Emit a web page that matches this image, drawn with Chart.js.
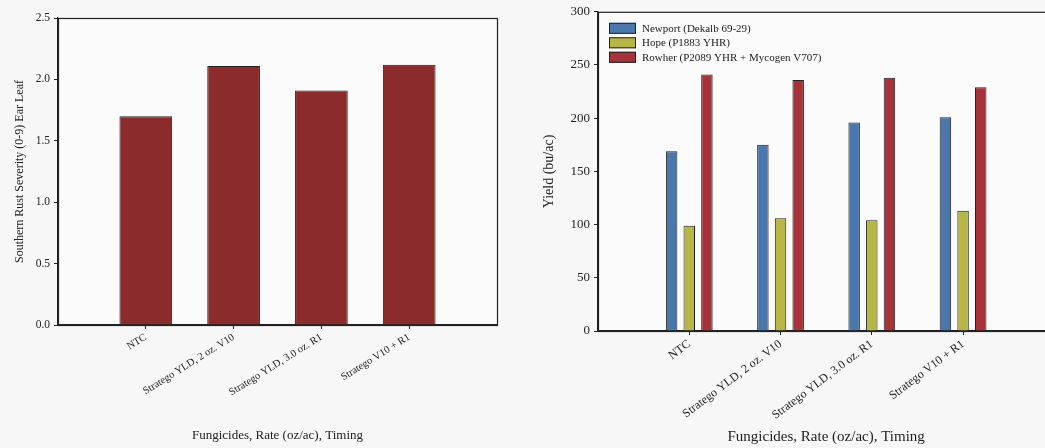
<!DOCTYPE html>
<html>
<head>
<meta charset="utf-8">
<script src="https://cdn.jsdelivr.net/npm/chart.js@4/dist/chart.umd.min.js"></script>
<style>
  html,body{margin:0;padding:0;width:1045px;height:448px;overflow:hidden;background:#f7f7f7;}
  canvas{position:absolute;top:0;}
  #sev{left:0;}
  #yld{left:520px;}
</style>
</head>
<body>
<canvas id="sev" width="520" height="448"></canvas>
<canvas id="yld" width="545" height="448"></canvas>
<script>
// data
const categories = ['NTC', 'Stratego YLD, 2 oz. V10', 'Stratego YLD, 3.0 oz. R1', 'Stratego V10 + R1'];
const rustSeverity = [1.70, 2.11, 1.91, 2.12];
const seriesNames = ['Newport (Dekalb 69-29)', 'Hope (P1883 YHR)', 'Rowher (P2089 YHR + Mycogen V707)'];
const yieldNewport = [169, 175, 196, 201];
const yieldHope = [99, 106, 104, 113];
const yieldRowher = [241, 236, 238, 229];
const severityTicks = [0, 0.5, 1.0, 1.5, 2.0, 2.5];
const yieldTicks = [0, 50, 100, 150, 200, 250, 300];

// empty slot each side so the groups sit like the original
const pad = a => [null, ...a, null];
const labels = ['', ...categories, ''];

const FONT = '"Liberation Serif", "Times New Roman", serif';
const INK = '#222';

const boxPlugin = {
  id:'box',
  beforeDraw(c){
    const {ctx, chartArea:a} = c;
    ctx.save(); ctx.fillStyle='#fbfbfb';
    ctx.fillRect(a.left, a.top, a.right-a.left, a.bottom-a.top);
    ctx.restore();
  },
  afterDraw(c){
    const {ctx, chartArea:a} = c;
    ctx.save(); ctx.strokeStyle=INK; ctx.lineWidth=1.2;
    ctx.strokeRect(a.left+0.5, a.top+0.5, a.right-a.left, a.bottom-a.top);
    ctx.restore();
  }
};

const legendPlugin = {
  id:'innerLegend',
  afterDraw(c){
    const {ctx, chartArea:a} = c;
    ctx.save();
    ctx.font = '11px ' + FONT;
    ctx.textBaseline = 'middle';
    c.data.datasets.forEach((ds,i)=>{
      const x = a.left + 11, y = a.top + 11 + i*14.5;
      ctx.fillStyle = ds.backgroundColor;
      ctx.fillRect(x, y, 27, 11);
      ctx.strokeStyle = INK; ctx.lineWidth = 1;
      ctx.strokeRect(x+0.5, y+0.5, 26, 10);
      ctx.fillStyle = INK;
      ctx.fillText(ds.label, x + 33, y + 6);
    });
    ctx.restore();
  }
};

const xTickColor = (ctx)=> (ctx.tick && ctx.tick.label === '') ? 'rgba(0,0,0,0)' : INK;

function xAxis(h, rot, size, titleSize, titlePad){
  return {
    offset:false,
    afterFit(s){ s.height = h; },
    grid:{display:true, offset:false, drawOnChartArea:false, tickLength:4, tickColor:xTickColor, tickWidth:1},
    border:{color:INK, width:1.2},
    ticks:{color:INK, autoSkip:false, minRotation:rot, maxRotation:rot, padding:2, font:{family:FONT, size:size}},
    title:{display:true, text:'Fungicides, Rate (oz/ac), Timing', color:INK, font:{family:FONT, size:titleSize}, padding:{top:0, bottom:titlePad}}
  };
}

function yAxis(w, ticks, fmt, title, size, titleSize, titlePad){
  return {
    min: ticks[0], max: ticks[ticks.length-1],
    afterFit(s){ s.width = w; },
    afterBuildTicks(s){ s.ticks = ticks.map(v=>({value:v})); },
    grid:{display:true, drawOnChartArea:false, tickLength:4, color:INK, tickColor:INK},
    border:{color:INK, width:1.2},
    ticks:{color:INK, padding:4, font:{family:FONT, size:size}, callback:v=>fmt(v)},
    title:{display:true, text:title, color:INK, font:{family:FONT, size:titleSize}, padding:{top:titlePad, bottom:0}}
  };
}

new Chart(document.getElementById('sev'), {
  type:'bar',
  data:{
    labels,
    datasets:[{
      label:'Severity',
      data: pad(rustSeverity),
      backgroundColor:'#8c2b2b',
      borderColor:INK, borderWidth:1,
      barPercentage:0.6, categoryPercentage:1
    }]
  },
  options:{
    responsive:false, animation:false,
    layout:{padding:{top:18, right:23, left:0, bottom:0}},
    plugins:{legend:{display:false}, tooltip:{enabled:false}},
    scales:{
      x: xAxis(123, 32, 10.5, 13, 5),
      y: yAxis(58, severityTicks, v=>Number(v).toFixed(1), 'Southern Rust Severity (0-9) Ear Leaf', 11.5, 12, 13)
    }
  },
  plugins:[boxPlugin]
});

new Chart(document.getElementById('yld'), {
  type:'bar',
  data:{
    labels,
    datasets:[
      {label:seriesNames[0], data:pad(yieldNewport), backgroundColor:'#4a78ad'},
      {label:seriesNames[1], data:pad(yieldHope), backgroundColor:'#b8b645'},
      {label:seriesNames[2], data:pad(yieldRowher), backgroundColor:'#a63339'}
    ].map(d=>Object.assign(d,{borderColor:INK, borderWidth:1, barPercentage:0.65, categoryPercentage:0.58}))
  },
  options:{
    responsive:false, animation:false,
    layout:{padding:{top:11, right:10, left:0, bottom:0}},
    plugins:{legend:{display:false}, tooltip:{enabled:false}},
    scales:{
      x: xAxis(117, 37, 12, 15, 2),
      y: yAxis(78, yieldTicks, v=>String(v), 'Yield (bu/ac)', 13, 14, 21)
    }
  },
  plugins:[boxPlugin, legendPlugin]
});
</script>
</body>
</html>
